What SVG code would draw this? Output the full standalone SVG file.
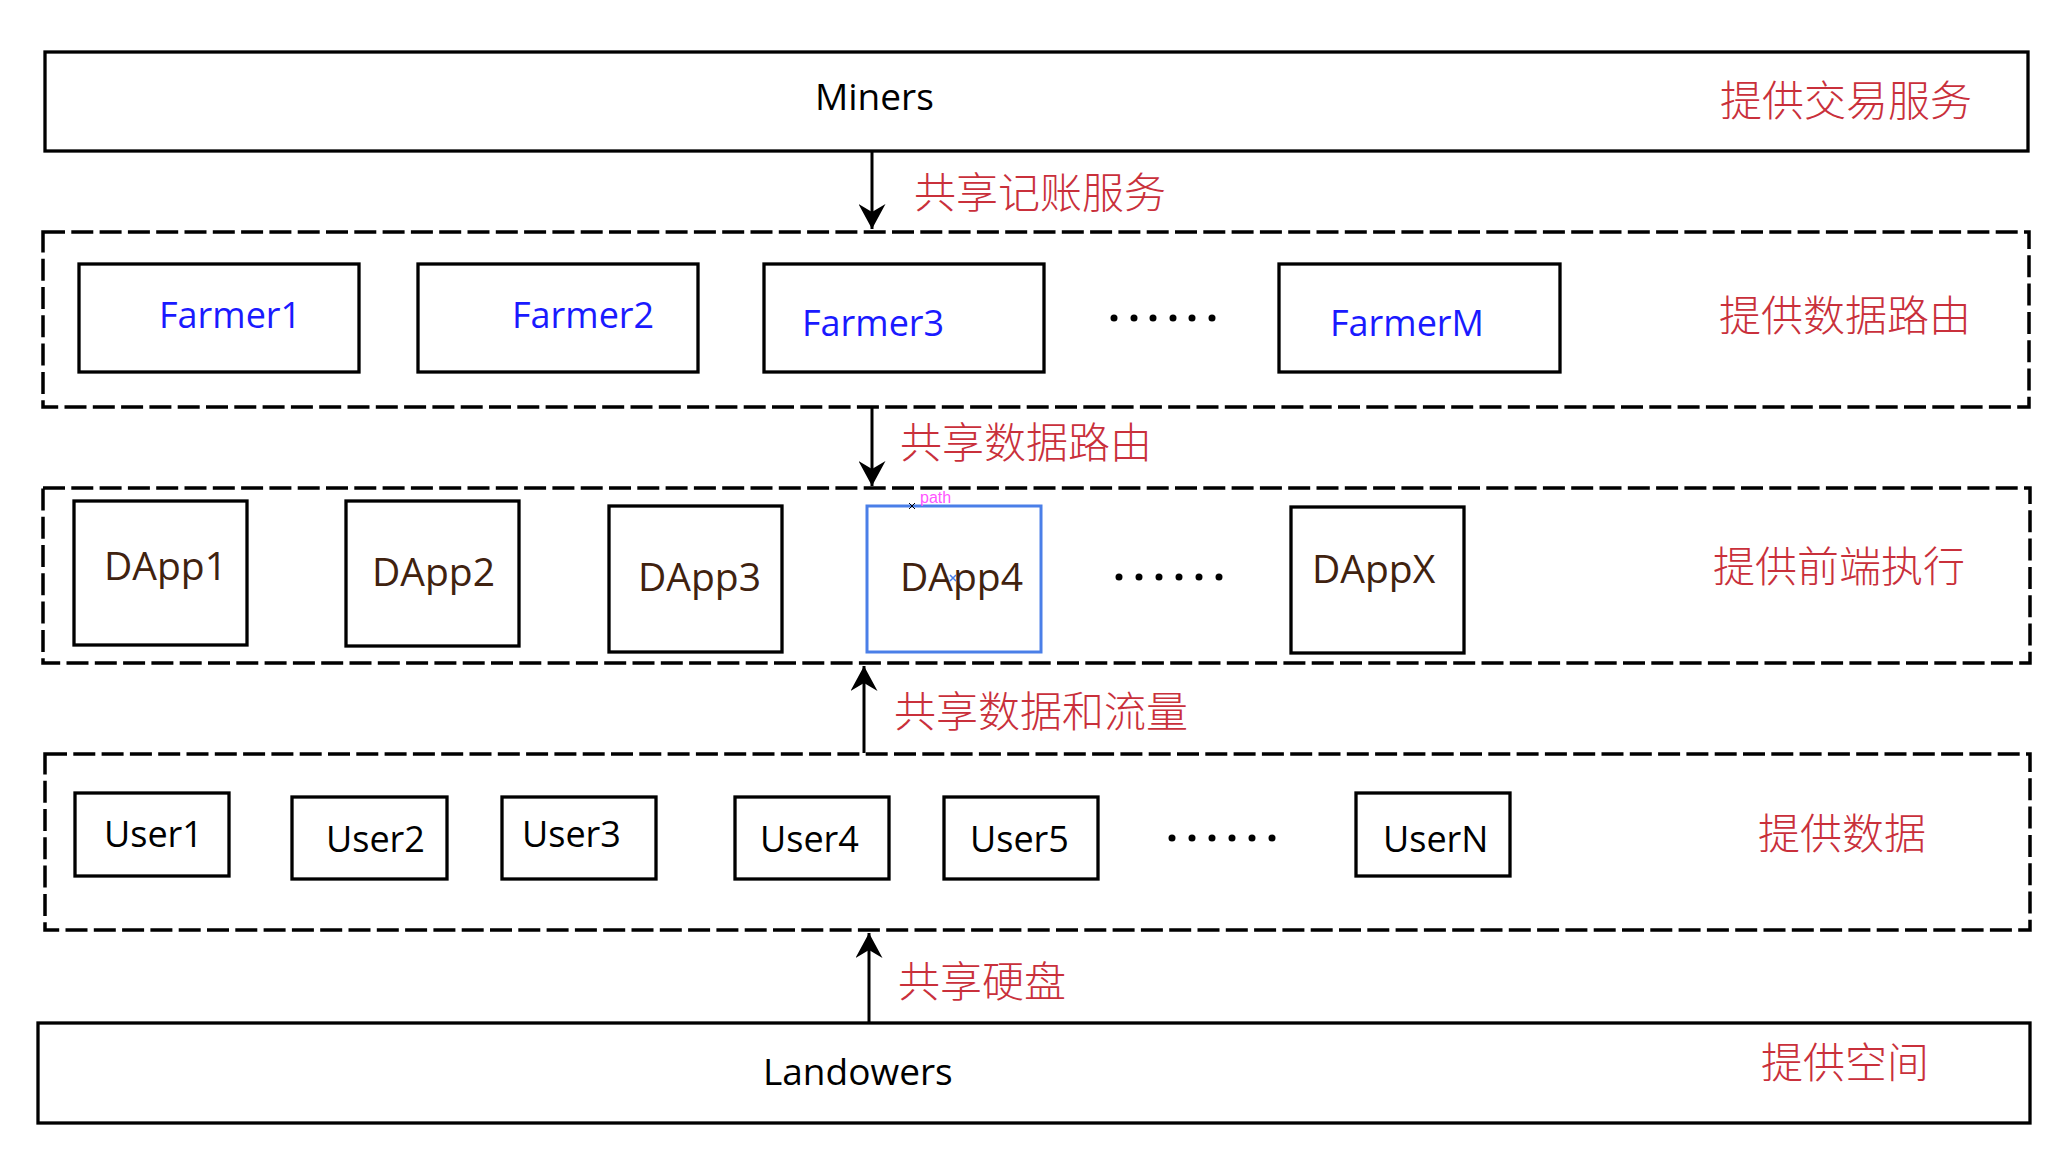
<svg xmlns="http://www.w3.org/2000/svg" width="2062" height="1160" viewBox="0 0 2062 1160">
<style>
.box{fill:#fff;stroke:#000;stroke-width:3.3}
.grp{fill:none;stroke:#000;stroke-width:3.5;stroke-dasharray:22 6.3}
.lbl{font-family:"Open Sans","Noto Sans",sans-serif;font-size:37px;fill:#000}
.farm{font-family:"Open Sans","Noto Sans",sans-serif;font-size:36px;fill:#1a1aff}
.dapp{font-family:"Open Sans","Noto Sans",sans-serif;font-size:39px;fill:#40220f}
.user{font-family:"Open Sans","Noto Sans",sans-serif;font-size:36px;fill:#000}
.cn{font-family:"Noto Sans CJK SC","Noto Sans CJK JP",sans-serif;font-size:42px;fill:#c9303b;font-weight:300}
.arr{stroke:#000;stroke-width:3;fill:none}
.dot{fill:#000}
</style>
<defs>
<marker id="ah" viewBox="0 0 25 27" refX="25" refY="13.5" markerWidth="25" markerHeight="27" markerUnits="userSpaceOnUse" orient="auto">
<path d="M0,0 L25,13.5 L0,27 L8,13.5 Z" fill="#000"/>
</marker>
</defs>
<rect width="2062" height="1160" fill="#fff"/>

<g id="miners">
<rect class="box" x="45" y="52" width="1983" height="99"/>
<text class="lbl" x="815" y="110">Miners</text>
<text class="cn" x="1720" y="116">提供交易服务</text>
</g>

<g id="farmers-layer">
<rect class="grp" x="43" y="232" width="1986" height="175"/>
<text class="cn" x="1719" y="331">提供数据路由</text>
<g id="farmer1"><rect class="box" x="79" y="264" width="280" height="108"/><text class="farm" x="159" y="328">Farmer1</text></g>
<g id="farmer2"><rect class="box" x="418" y="264" width="280" height="108"/><text class="farm" x="512" y="328">Farmer2</text></g>
<g id="farmer3"><rect class="box" x="764" y="264" width="280" height="108"/><text class="farm" x="802" y="336">Farmer3</text></g>
<g id="farmer-dots"><circle class="dot" cx="1114" cy="318" r="3.5"/><circle class="dot" cx="1134" cy="318" r="3.5"/><circle class="dot" cx="1153" cy="318" r="3.5"/><circle class="dot" cx="1173" cy="318" r="3.5"/><circle class="dot" cx="1192" cy="318" r="3.5"/><circle class="dot" cx="1212" cy="318" r="3.5"/></g>
<g id="farmerM"><rect class="box" x="1279" y="264" width="281" height="108"/><text class="farm" x="1330" y="336">FarmerM</text></g>
</g>

<g id="dapps-layer">
<rect class="grp" x="43" y="488" width="1987" height="175"/>
<text class="cn" x="1713" y="582">提供前端执行</text>
<g id="dapp1"><rect class="box" x="74" y="501" width="173" height="144"/><text class="dapp" x="104" y="580">DApp1</text></g>
<g id="dapp2"><rect class="box" x="346" y="501" width="173" height="145"/><text class="dapp" x="372" y="586">DApp2</text></g>
<g id="dapp3"><rect class="box" x="609" y="506" width="173" height="146"/><text class="dapp" x="638" y="591">DApp3</text></g>
<g id="dapp4"><rect x="867" y="506" width="174" height="146" fill="#fff" stroke="#4a7fe8" stroke-width="3"/><text class="dapp" x="900" y="591">DApp4</text>
<text x="920" y="503" font-family="Liberation Sans,Arial,sans-serif" font-size="16" fill="#ff55ff">path</text>
<path d="M909,503 L915,509 M915,503 L909,509" stroke="#000" stroke-width="1"/>
<path d="M950,575 L956,581 M956,575 L950,581" stroke="#4a7fe8" stroke-width="1.5"/>
</g>
<g id="dapp-dots"><circle class="dot" cx="1119" cy="577" r="3.5"/><circle class="dot" cx="1139" cy="577" r="3.5"/><circle class="dot" cx="1159" cy="577" r="3.5"/><circle class="dot" cx="1179" cy="577" r="3.5"/><circle class="dot" cx="1199" cy="577" r="3.5"/><circle class="dot" cx="1219" cy="577" r="3.5"/></g>
<g id="dappX"><rect class="box" x="1291" y="507" width="173" height="146"/><text class="dapp" x="1312" y="583">DAppX</text></g>
</g>

<g id="users-layer">
<rect class="grp" x="45" y="754" width="1985" height="176"/>
<text class="cn" x="1758" y="849">提供数据</text>
<g id="user1"><rect class="box" x="75" y="793" width="154" height="83"/><text class="user" x="104" y="847">User1</text></g>
<g id="user2"><rect class="box" x="292" y="797" width="155" height="82"/><text class="user" x="326" y="852">User2</text></g>
<g id="user3"><rect class="box" x="502" y="797" width="154" height="82"/><text class="user" x="522" y="847">User3</text></g>
<g id="user4"><rect class="box" x="735" y="797" width="154" height="82"/><text class="user" x="760" y="852">User4</text></g>
<g id="user5"><rect class="box" x="944" y="797" width="154" height="82"/><text class="user" x="970" y="852">User5</text></g>
<g id="user-dots"><circle class="dot" cx="1172" cy="838" r="3.5"/><circle class="dot" cx="1192" cy="838" r="3.5"/><circle class="dot" cx="1212" cy="838" r="3.5"/><circle class="dot" cx="1232" cy="838" r="3.5"/><circle class="dot" cx="1252" cy="838" r="3.5"/><circle class="dot" cx="1272" cy="838" r="3.5"/></g>
<g id="userN"><rect class="box" x="1356" y="793" width="154" height="83"/><text class="user" x="1383" y="852">UserN</text></g>
</g>

<g id="landowers">
<rect class="box" x="38" y="1023" width="1992" height="100"/>
<text class="lbl" x="763" y="1085">Landowers</text>
<text class="cn" x="1761" y="1078">提供空间</text>
</g>

<g id="connectors">
<line class="arr" x1="872" y1="152" x2="872" y2="229" marker-end="url(#ah)"/>
<line class="arr" x1="872" y1="408" x2="872" y2="486" marker-end="url(#ah)"/>
<line class="arr" x1="864" y1="753" x2="864" y2="666" marker-end="url(#ah)"/>
<line class="arr" x1="869" y1="1022" x2="869" y2="933" marker-end="url(#ah)"/>
<text class="cn" x="914" y="208">共享记账服务</text>
<text class="cn" x="900" y="458">共享数据路由</text>
<text class="cn" x="894" y="727">共享数据和流量</text>
<text class="cn" x="898" y="997">共享硬盘</text>
</g>
</svg>
